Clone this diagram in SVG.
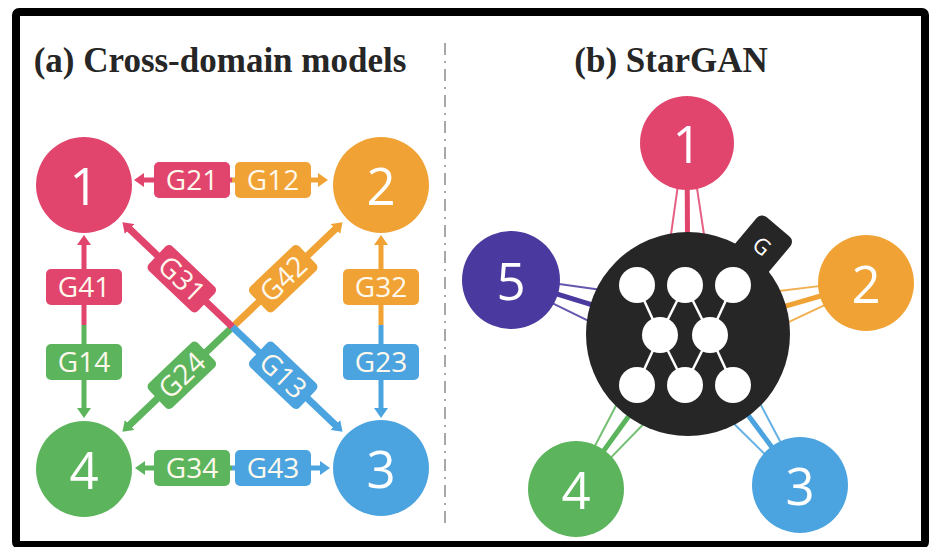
<svg xmlns="http://www.w3.org/2000/svg" width="932" height="547" viewBox="0 0 932 547">
  <style>
    .num{font-family:"Open Sans","DejaVu Sans",sans-serif;font-size:51px;fill:#ffffff;text-anchor:middle}
    .lbl{font-family:"Open Sans","DejaVu Sans",sans-serif;font-size:28px;fill:#fff8ec;text-anchor:middle}
    .title{font-family:"Liberation Serif","Times New Roman",serif;font-weight:bold;font-size:35px;fill:#262626;text-anchor:middle}
    .red{fill:#e1456d}.org{fill:#f0a234}.grn{fill:#5cb55c}.blu{fill:#4ba4df}.pur{fill:#4a3a9f}.dark{fill:#262626}
    .lr{stroke:#e1456d}.lo{stroke:#f0a234}.lg{stroke:#5cb55c}.lb{stroke:#4ba4df}.lp{stroke:#4a3a9f}
    .straight line{stroke-width:5;fill:none}
    .diag line{stroke-width:7;fill:none}
    .spoke .thin{stroke-width:2;opacity:0.85}
    .spoke .thick{stroke-width:5}
    .net line{stroke:#ffffff;stroke-width:2.5}
    .net circle{fill:#ffffff}
  </style>
  <defs>
    <marker id="ah-red" markerUnits="userSpaceOnUse" viewBox="0 0 10 14" markerWidth="10" markerHeight="14" refX="1" refY="7" orient="auto"><path d="M0,0 L10,7 L0,14 Z" fill="#e1456d"/></marker>
    <marker id="ah-org" markerUnits="userSpaceOnUse" viewBox="0 0 10 14" markerWidth="10" markerHeight="14" refX="1" refY="7" orient="auto"><path d="M0,0 L10,7 L0,14 Z" fill="#f0a234"/></marker>
    <marker id="ah-grn" markerUnits="userSpaceOnUse" viewBox="0 0 10 14" markerWidth="10" markerHeight="14" refX="1" refY="7" orient="auto"><path d="M0,0 L10,7 L0,14 Z" fill="#5cb55c"/></marker>
    <marker id="ah-blu" markerUnits="userSpaceOnUse" viewBox="0 0 10 14" markerWidth="10" markerHeight="14" refX="1" refY="7" orient="auto"><path d="M0,0 L10,7 L0,14 Z" fill="#4ba4df"/></marker>
  </defs>

  <rect width="932" height="547" fill="#ffffff"/>

  <!-- titles -->
  <text class="title" x="220" y="72">(a) Cross-domain models</text>
  <text class="title" x="671" y="72">(b) StarGAN</text>

  <!-- panel divider -->
  <line x1="445" y1="43" x2="445" y2="527" stroke="#a8a8a8" stroke-width="2" stroke-dasharray="12,6,2,6"/>

  <!-- (a) connectors with generator labels -->
  <g id="connectors-a">
    <g class="straight">
      <!-- 1 <-> 2 -->
      <line class="lr" x1="232" y1="180" x2="143" y2="180" marker-end="url(#ah-red)"/>
      <line class="lo" x1="232" y1="180" x2="319" y2="180" marker-end="url(#ah-org)"/>
      <!-- 4 <-> 3 -->
      <line class="lg" x1="232" y1="468" x2="144" y2="468" marker-end="url(#ah-grn)"/>
      <line class="lb" x1="232" y1="468" x2="321" y2="468" marker-end="url(#ah-blu)"/>
      <!-- 1 <-> 4 -->
      <line class="lr" x1="84" y1="325" x2="84" y2="244" marker-end="url(#ah-red)"/>
      <line class="lg" x1="84" y1="325" x2="84" y2="409" marker-end="url(#ah-grn)"/>
      <!-- 2 <-> 3 -->
      <line class="lo" x1="381" y1="325" x2="381" y2="244" marker-end="url(#ah-org)"/>
      <line class="lb" x1="381" y1="325" x2="381" y2="409" marker-end="url(#ah-blu)"/>
    </g>
    <!-- 4 <-> 2 diagonal -->
    <g class="diag" transform="translate(232.5,327) rotate(-43.6)">
      <line class="lo" x1="0" y1="0" x2="143" y2="0" marker-end="url(#ah-org)"/>
      <line class="lg" x1="0" y1="0" x2="-143" y2="0" marker-end="url(#ah-grn)"/>
      <rect class="org" x="36" y="-17" width="68" height="34" rx="5"/>
      <text class="lbl" x="70" y="10">G42</text>
      <rect class="grn" x="-104" y="-17" width="68" height="34" rx="5"/>
      <text class="lbl" x="-70" y="10">G24</text>
    </g>
    <!-- 1 <-> 3 diagonal -->
    <g class="diag" transform="translate(232.5,327) rotate(43.6)">
      <line class="lr" x1="0" y1="0" x2="-143" y2="0" marker-end="url(#ah-red)"/>
      <line class="lb" x1="0" y1="0" x2="143" y2="0" marker-end="url(#ah-blu)"/>
      <rect class="red" x="-104" y="-17" width="68" height="34" rx="5"/>
      <text class="lbl" x="-70" y="10">G31</text>
      <rect class="blu" x="36" y="-17" width="68" height="34" rx="5"/>
      <text class="lbl" x="70" y="10">G13</text>
    </g>
    <!-- straight labels -->
    <rect class="red" x="154" y="162" width="76" height="36" rx="5"/>
    <text class="lbl" x="192" y="190">G21</text>
    <rect class="org" x="235" y="162" width="76" height="36" rx="5"/>
    <text class="lbl" x="273" y="190">G12</text>
    <rect class="grn" x="154" y="450" width="76" height="36" rx="5"/>
    <text class="lbl" x="192" y="478">G34</text>
    <rect class="blu" x="235" y="450" width="76" height="36" rx="5"/>
    <text class="lbl" x="273" y="478">G43</text>
    <rect class="red" x="46" y="269" width="76" height="36" rx="5"/>
    <text class="lbl" x="84" y="297">G41</text>
    <rect class="grn" x="46" y="344" width="76" height="36" rx="5"/>
    <text class="lbl" x="84" y="372">G14</text>
    <rect class="org" x="343" y="269" width="76" height="36" rx="5"/>
    <text class="lbl" x="381" y="297">G32</text>
    <rect class="blu" x="343" y="344" width="76" height="36" rx="5"/>
    <text class="lbl" x="381" y="372">G23</text>
  </g>

  <!-- (a) domain nodes -->
  <g id="a-node-1"><circle class="red" cx="84" cy="185" r="48"/><text class="num" x="84" y="205">1</text></g>
  <g id="a-node-2"><circle class="org" cx="381" cy="185" r="48"/><text class="num" x="381" y="205">2</text></g>
  <g id="a-node-3"><circle class="blu" cx="381" cy="468" r="48"/><text class="num" x="381" y="488">3</text></g>
  <g id="a-node-4"><circle class="grn" cx="84" cy="469" r="48"/><text class="num" x="84" y="489">4</text></g>

  <!-- (b) spokes from each domain to the shared generator -->
  <g id="connectors-b">
    <g class="spoke lr" transform="translate(687,143) rotate(89.7)">
      <line class="thin" x1="40" y1="-9" x2="95" y2="-17"/>
      <line class="thin" x1="40" y1="9" x2="95" y2="17"/>
      <line class="thick" x1="40" y1="0" x2="95" y2="0"/>
    </g>
    <g class="spoke lp" transform="translate(511,280) rotate(17)">
      <line class="thin" x1="40" y1="-9" x2="90" y2="-17"/>
      <line class="thin" x1="40" y1="9" x2="90" y2="17"/>
      <line class="thick" x1="40" y1="0" x2="90" y2="0"/>
    </g>
    <g class="spoke lo" transform="translate(866,283) rotate(164)">
      <line class="thin" x1="40" y1="-9" x2="90" y2="-17"/>
      <line class="thin" x1="40" y1="9" x2="90" y2="17"/>
      <line class="thick" x1="40" y1="0" x2="90" y2="0"/>
    </g>
    <g class="spoke lg" transform="translate(576,489) rotate(-54.1)">
      <line class="thin" x1="40" y1="-9" x2="95" y2="-17"/>
      <line class="thin" x1="40" y1="9" x2="95" y2="17"/>
      <line class="thick" x1="40" y1="0" x2="95" y2="0"/>
    </g>
    <g class="spoke lb" transform="translate(800,485) rotate(-126.6)">
      <line class="thin" x1="40" y1="-9" x2="92" y2="-17"/>
      <line class="thin" x1="40" y1="9" x2="92" y2="17"/>
      <line class="thick" x1="40" y1="0" x2="92" y2="0"/>
    </g>
  </g>

  <!-- (b) shared generator G -->
  <g id="generator">
    <g transform="translate(688,334) rotate(40)">
      <rect class="dark" x="-22" y="-140" width="44" height="60" rx="7"/>
      <text x="0" y="-107" font-family="'Open Sans','DejaVu Sans',sans-serif" font-size="22" fill="#ffffff" text-anchor="middle">G</text>
    </g>
    <circle class="dark" cx="688" cy="334" r="102"/>
    <g class="net">
      <line x1="637" y1="285" x2="660" y2="335"/>
      <line x1="685" y1="285" x2="660" y2="335"/>
      <line x1="685" y1="285" x2="710" y2="335"/>
      <line x1="733" y1="285" x2="710" y2="335"/>
      <line x1="660" y1="335" x2="637" y2="385"/>
      <line x1="660" y1="335" x2="685" y2="385"/>
      <line x1="710" y1="335" x2="685" y2="385"/>
      <line x1="710" y1="335" x2="733" y2="385"/>
      <circle cx="637" cy="285" r="18"/>
      <circle cx="685" cy="285" r="18"/>
      <circle cx="733" cy="285" r="18"/>
      <circle cx="660" cy="335" r="18"/>
      <circle cx="710" cy="335" r="18"/>
      <circle cx="637" cy="385" r="18"/>
      <circle cx="685" cy="385" r="18"/>
      <circle cx="733" cy="385" r="18"/>
    </g>
  </g>

  <!-- (b) domain nodes -->
  <g id="b-node-1"><circle class="red" cx="687" cy="143" r="47"/><text class="num" x="687" y="163">1</text></g>
  <g id="b-node-2"><circle class="org" cx="866" cy="283" r="48"/><text class="num" x="866" y="303">2</text></g>
  <g id="b-node-3"><circle class="blu" cx="800" cy="485" r="48"/><text class="num" x="800" y="505">3</text></g>
  <g id="b-node-4"><circle class="grn" cx="576" cy="489" r="48"/><text class="num" x="576" y="509">4</text></g>
  <g id="b-node-5"><circle class="pur" cx="511" cy="280" r="49"/><text class="num" x="511" y="300">5</text></g>

  <!-- outer frame -->
  <rect x="16" y="12" width="909" height="533" rx="3" fill="none" stroke="#000000" stroke-width="8"/>
</svg>
